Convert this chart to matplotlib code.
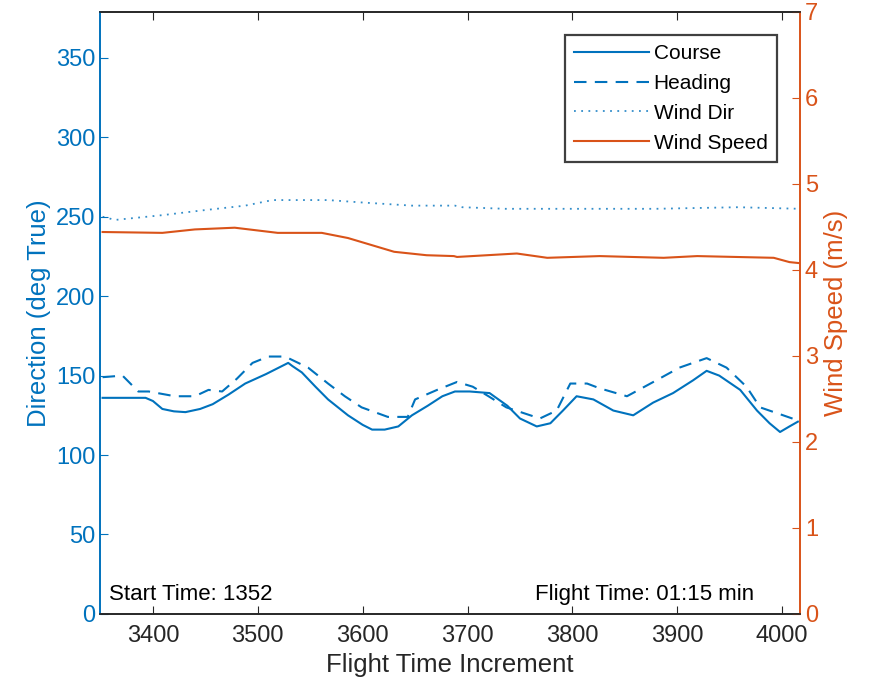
import matplotlib
matplotlib.use('Agg')
import matplotlib.pyplot as plt
import numpy as np

plt.rcParams['font.family'] = ['Liberation Sans', 'DejaVu Sans']

# flight time increment samples for each series
course_x = [3352, 3372, 3393, 3400, 3409, 3420, 3431, 3445, 3457, 3472, 3488,
            3508, 3529, 3533, 3542, 3555, 3567, 3586, 3600, 3609, 3621, 3634,
            3647, 3662, 3676, 3688, 3702, 3721, 3738, 3750, 3766, 3779, 3791,
            3804, 3820, 3839, 3858, 3877, 3896, 3915, 3928, 3940, 3960, 3976,
            3988, 3998, 4007, 4015]
course = [136, 136, 136, 134, 129, 127.5, 127, 129, 132, 138, 145,
          151, 158, 156, 152, 143, 135, 125, 119, 116, 116, 118,
          125, 131, 137, 140, 140, 139, 131, 123, 118, 120, 128,
          137, 135, 128, 125, 133, 139, 147, 153, 150, 141, 128,
          120, 114.5, 118, 121]

heading_x = [3352, 3371, 3386, 3396, 3421, 3440, 3453, 3466, 3480, 3495, 3510,
             3526, 3548, 3567, 3583, 3599, 3624, 3643, 3650, 3671, 3690, 3705,
             3720, 3737, 3769, 3785, 3798, 3814, 3826, 3852, 3880, 3902, 3928,
             3947, 3966, 3979, 4001, 4014]
heading = [149, 150, 140, 140, 137, 137, 141, 140, 148, 158, 162,
           162, 155, 145, 137, 130, 124, 124, 135, 141, 146, 143,
           137, 130, 123, 128, 145, 145, 142, 137, 147, 155, 161,
           155, 143, 130, 125, 122]

wdir_x = [3352, 3364, 3409, 3447, 3488, 3514, 3567, 3599, 3647, 3688, 3695,
          3736, 3879, 3958, 4017]
wdir = [250, 248, 251, 254, 257, 260.5, 260.5, 259, 257, 257, 256,
        255, 255, 256, 255]

wspd_x = [3352, 3409, 3440, 3478, 3519, 3561, 3586, 3608, 3630, 3661, 3687,
          3690, 3747, 3776, 3826, 3887, 3919, 3992, 4007, 4023, 4033]
wspd = [4.44, 4.43, 4.47, 4.49, 4.43, 4.43, 4.37, 4.29, 4.21, 4.17, 4.16,
        4.15, 4.19, 4.14, 4.16, 4.14, 4.16, 4.14, 4.09, 4.07, 4.07]

left_ticks = [0, 50, 100, 150, 200, 250, 300, 350]
right_ticks = [0, 1, 2, 3, 4, 5, 6, 7]
x_ticks = [3400, 3500, 3600, 3700, 3800, 3900, 4000]

blue = '#0072BD'
orange = '#D95319'
gray = '#262626'


def main():
    fig = plt.figure(figsize=(8.7, 6.96), dpi=100)
    ax = fig.add_axes([0.1155, 0.118, 0.804, 0.865])
    ax2 = ax.twinx()

    l1, = ax.plot(course_x, course, color=blue, lw=1.5, label='Course')
    l2, = ax.plot(heading_x, heading, color=blue, lw=1.5, ls=(0, (6, 4)), label='Heading')
    l3, = ax.plot(wdir_x, wdir, color=blue, lw=1.3, ls=(0, (1, 3)), alpha=0.8, label='Wind Dir')
    l4, = ax2.plot(wspd_x, wspd, color=orange, lw=1.5, label='Wind Speed')

    ax.set_xlim(3350, 4017)
    ax.set_ylim(0, 379)
    ax2.set_ylim(0, 7)
    ax.set_xticks(x_ticks)
    ax.set_yticks(left_ticks)
    ax2.set_yticks(right_ticks)

    for s in ['top', 'bottom']:
        ax.spines[s].set_color(gray)
        ax2.spines[s].set_color(gray)
    ax.spines['left'].set_color(blue)
    ax2.spines['left'].set_color(blue)
    ax.spines['right'].set_color(orange)
    ax2.spines['right'].set_color(orange)
    for a in (ax, ax2):
        for s in a.spines.values():
            s.set_linewidth(1.2)

    ax.tick_params(axis='x', direction='in', top=True, colors=gray, labelsize=17,
                   length=6, pad=8)
    ax.tick_params(axis='y', direction='in', colors=blue, labelsize=17, length=6)
    ax2.tick_params(axis='y', direction='in', colors=orange, labelsize=17, length=6)

    ax.set_xlabel('Flight Time Increment', fontsize=18.5, color=gray)
    ax.set_ylabel('Direction (deg True)', fontsize=18.5, color=blue)
    ax2.set_ylabel('Wind Speed (m/s)', fontsize=18.5, color=orange)

    ax.text(0.012, 0.015, 'Start Time: 1352', transform=ax.transAxes,
            fontsize=16, color='black', va='bottom', ha='left')
    ax.text(0.935, 0.015, 'Flight Time: 01:15 min', transform=ax.transAxes,
            fontsize=16, color='black', va='bottom', ha='right')

    leg = ax2.legend(handles=[l1, l2, l3, l4], loc='upper right',
                     bbox_to_anchor=(0.967, 0.962), fontsize=15,
                     fancybox=False, framealpha=1, edgecolor='#404040',
                     handlelength=3.6, handletextpad=0.2, borderpad=0.45,
                     labelspacing=0.52, borderaxespad=0)
    leg.get_frame().set_linewidth(1.6)

    fig.savefig('out.png', dpi=100)


if __name__ == '__main__':
    main()
